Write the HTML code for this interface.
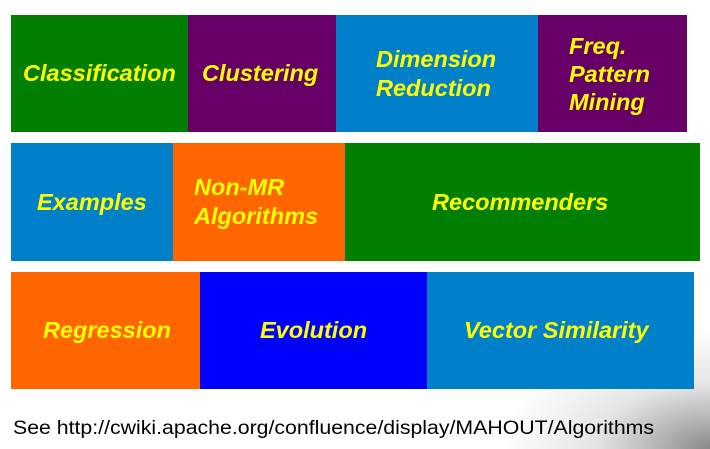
<!DOCTYPE html>
<html style="width:710px;height:449px;overflow:hidden"><head><style>
html,body{margin:0;width:710px;height:449px;overflow:hidden}
body{background:#fff;position:relative;font-family:"Liberation Sans",sans-serif}
.b{position:absolute;color:#ffff00;font-weight:bold;font-style:italic;font-size:23.5px;line-height:29px;display:flex;align-items:center;box-sizing:border-box;white-space:nowrap}
.shadow{position:absolute;left:500px;top:330px;width:210px;height:119px;background:radial-gradient(ellipse 210px 119px at 100% 100%,#888 0%,#b5b5b5 25%,#e5e5e5 55%,rgba(255,255,255,0) 100%)}
.t{position:absolute;left:13px;top:418px;font-size:19px;color:#000;transform:scaleX(1.12);transform-origin:0 0;white-space:nowrap}
</style></head><body>
<div class="shadow"></div>
<div class="b" style="left:11px;top:15px;width:177px;height:117px;background:#007f00;padding-left:12px">Classification</div>
<div class="b" style="left:188px;top:15px;width:148px;height:117px;background:#660066;padding-left:14px">Clustering</div>
<div class="b" style="left:336px;top:15px;width:202px;height:117px;background:#0080c8;padding-left:40px">Dimension<br>Reduction</div>
<div class="b" style="left:538px;top:15px;width:149px;height:117px;background:#660066;padding-left:31px;line-height:28px">Freq.<br>Pattern<br>Mining</div>
<div class="b" style="left:11px;top:143px;width:162px;height:118px;background:#0080c8;padding-left:26px">Examples</div>
<div class="b" style="left:173px;top:143px;width:172px;height:118px;background:#ff6600;padding-left:21px">Non-MR<br>Algorithms</div>
<div class="b" style="left:345px;top:143px;width:355px;height:118px;background:#007f00;padding-left:87px">Recommenders</div>
<div class="b" style="left:11px;top:272px;width:189px;height:117px;background:#ff6600;padding-left:32px">Regression</div>
<div class="b" style="left:200px;top:272px;width:227px;height:117px;background:#0000ff;padding-left:60px">Evolution</div>
<div class="b" style="left:427px;top:272px;width:267px;height:117px;background:#0080c8;padding-left:37px">Vector Similarity</div>
<div class="t">See http://cwiki.apache.org/confluence/display/MAHOUT/Algorithms</div>
</body></html>
